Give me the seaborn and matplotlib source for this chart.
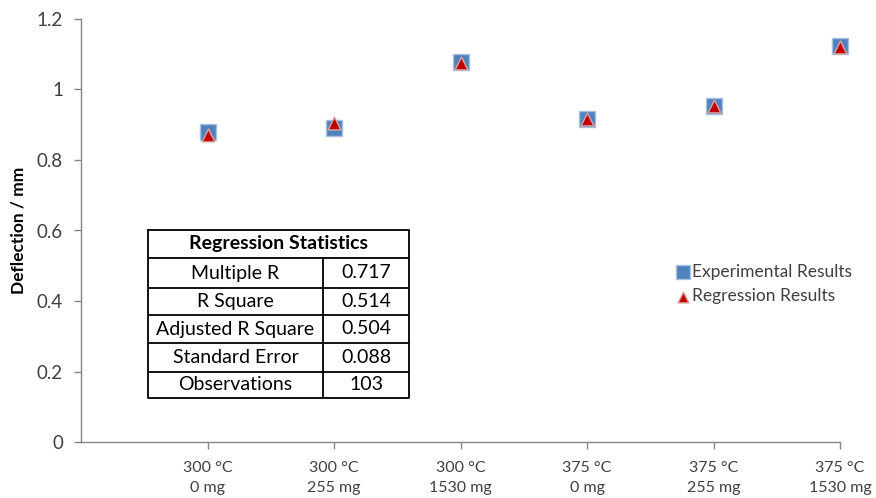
import matplotlib
matplotlib.use("Agg")
import matplotlib.pyplot as plt
import seaborn as sns
import pandas as pd

# Test conditions along the category axis
categories = ["300 °C\n0 mg", "300 °C\n255 mg", "300 °C\n1530 mg",
              "375 °C\n0 mg", "375 °C\n255 mg", "375 °C\n1530 mg"]
experimental = [0.880, 0.890, 1.078, 0.917, 0.953, 1.123]
regression = [0.870, 0.905, 1.075, 0.915, 0.952, 1.120]

# Regression summary table
stat_names = ["Multiple R", "R Square", "Adjusted R Square", "Standard Error", "Observations"]
stat_values = ["0.717", "0.514", "0.504", "0.088", "103"]

y_ticks = [0, 0.2, 0.4, 0.6, 0.8, 1, 1.2]
y_tick_labels = ["0", "0.2", "0.4", "0.6", "0.8", "1", "1.2"]

sns.set_theme(style="white")
plt.rcParams["font.family"] = ["Lato", "DejaVu Sans"]

W, H = 876, 498
fig = plt.figure(figsize=(W / 100, H / 100), dpi=100)
ax = fig.add_axes([81 / W, 1 - 442 / H, (840 - 81) / W, (442 - 19) / H])

pos = list(range(1, len(categories) + 1))
df = pd.DataFrame({
    "pos": pos * 2,
    "value": experimental + regression,
    "series": ["Experimental Results"] * len(pos) + ["Regression Results"] * len(pos),
})

sns.scatterplot(data=df[df.series == "Experimental Results"], x="pos", y="value",
                marker="s", s=135, color="#4F81BD", edgecolor="#A9C0DE", linewidth=1.0,
                ax=ax, label="Experimental Results", zorder=3, clip_on=False)
sns.scatterplot(data=df[df.series == "Regression Results"], x="pos", y="value",
                marker="^", s=85, color="#C00000", edgecolor="#D9A6A6", linewidth=1.0,
                ax=ax, label="Regression Results", zorder=4, clip_on=False)

ax.set_xlim(0, len(categories))
ax.set_ylim(0, 1.2)
ax.set_xticks(pos)
ax.set_xticklabels(categories, fontsize=11.5, color="#404040", linespacing=1.5)
ax.set_yticks(y_ticks)
ax.set_yticklabels(y_tick_labels, fontsize=13.5, color="#404040")
ax.set_xlabel("")
ax.set_ylabel("Deflection / mm", fontsize=12.5, fontweight="bold", color="black", labelpad=7)

for side in ["top", "right"]:
    ax.spines[side].set_visible(False)
for side in ["left", "bottom"]:
    ax.spines[side].set_color("#868686")
    ax.spines[side].set_linewidth(1.0)
ax.tick_params(axis="both", which="major", direction="out", length=5, width=1,
               color="#868686", bottom=True, left=True)
ax.tick_params(axis="x", pad=9)
ax.tick_params(axis="y", pad=8)

leg = ax.legend(loc="center left", bbox_to_anchor=((667 - 81) / (840 - 81), (442 - 284) / (442 - 19)),
                frameon=False, fontsize=12.5, handletextpad=0.05, labelspacing=0.5,
                handlelength=1.0, borderaxespad=0, markerscale=0.85)
for t in leg.get_texts():
    t.set_color("#404040")

# Regression statistics table, laid out in pixel units
tx0, tx1, ty0, ty1 = 148, 409, 230, 398
tab = fig.add_axes([tx0 / W, 1 - ty1 / H, (tx1 - tx0) / W, (ty1 - ty0) / H])
tab.set_xlim(tx0, tx1)
tab.set_ylim(ty1, ty0)
tab.axis("off")
lw = 1.3
tab.plot([tx0, tx1, tx1, tx0, tx0], [ty0, ty0, ty1, ty1, ty0], color="black", lw=lw, clip_on=False)
row_lines = [258, 288, 315, 343, 372]
for yl in row_lines:
    tab.plot([tx0, tx1], [yl, yl], color="black", lw=lw)
col_x = 323
tab.plot([col_x, col_x], [row_lines[0], ty1], color="black", lw=lw)
tab.text((tx0 + tx1) / 2, (ty0 + row_lines[0]) / 2, "Regression Statistics",
         ha="center", va="center", fontsize=14, fontweight="bold", color="black")
edges = row_lines + [ty1]
for i, (name, val) in enumerate(zip(stat_names, stat_values)):
    yc = (edges[i] + edges[i + 1]) / 2
    tab.text((tx0 + col_x) / 2, yc, name, ha="center", va="center", fontsize=14, color="black")
    tab.text((col_x + tx1) / 2, yc, val, ha="center", va="center", fontsize=14, color="black")

fig.savefig("out.png", dpi=100)
